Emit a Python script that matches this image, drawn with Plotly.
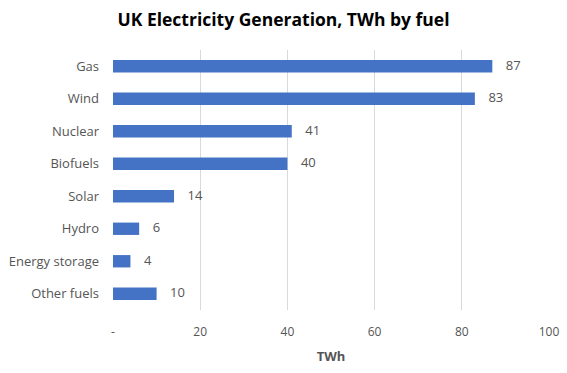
import plotly.graph_objects as go

categories = ["Gas", "Wind", "Nuclear", "Biofuels", "Solar", "Hydro", "Energy storage", "Other fuels"]
values = [87, 83, 41, 40, 14, 6, 4, 10]
tick_vals = [0, 20, 40, 60, 80, 100]
tick_text = ["-", "20", "40", "60", "80", "100"]

FONT = "Open Sans, Liberation Sans, sans-serif"
GRAY = "#555555"

fig = go.Figure()
fig.add_trace(go.Bar(
    x=values, y=categories, orientation="h",
    marker=dict(color="#4472C4", line=dict(width=0)),
    hoverinfo="x+y",
))
fig.add_trace(go.Scatter(
    x=values, y=categories, mode="text",
    text=["    " + str(v) for v in values], textposition="middle right",
    textfont=dict(family=FONT, size=13, color=GRAY),
    cliponaxis=False, hoverinfo="skip",
))

fig.update_layout(
    width=567, height=373,
    margin=dict(l=113, r=18, t=50, b=63, autoexpand=False),
    paper_bgcolor="white", plot_bgcolor="white",
    bargap=0.62,
    showlegend=False,
    title=dict(text="<b>UK Electricity Generation, TWh by fuel</b>", x=0.5, xanchor="center",
               y=1 - 20 / 373, yanchor="middle",
               font=dict(family=FONT, size=17.5, color="black")),
    xaxis=dict(range=[0, 100], tickvals=tick_vals, ticktext=tick_text,
               showgrid=True, gridcolor="#d9d9d9", gridwidth=1,
               zeroline=False, showline=False, automargin=False,
               tickfont=dict(family=FONT, size=12, color=GRAY),
               ticklabelstandoff=13,
               title=dict(text="<b>TWh</b>", font=dict(family=FONT, size=13, color=GRAY), standoff=12)),
    yaxis=dict(autorange="reversed", showgrid=False, zeroline=False, showline=False,
               ticks="", ticklabelstandoff=13, automargin=False,
               tickfont=dict(family=FONT, size=13, color=GRAY)),
)

fig.write_html("out.html", post_script="document.body.style.margin='0';",
               config={"displayModeBar": False})
